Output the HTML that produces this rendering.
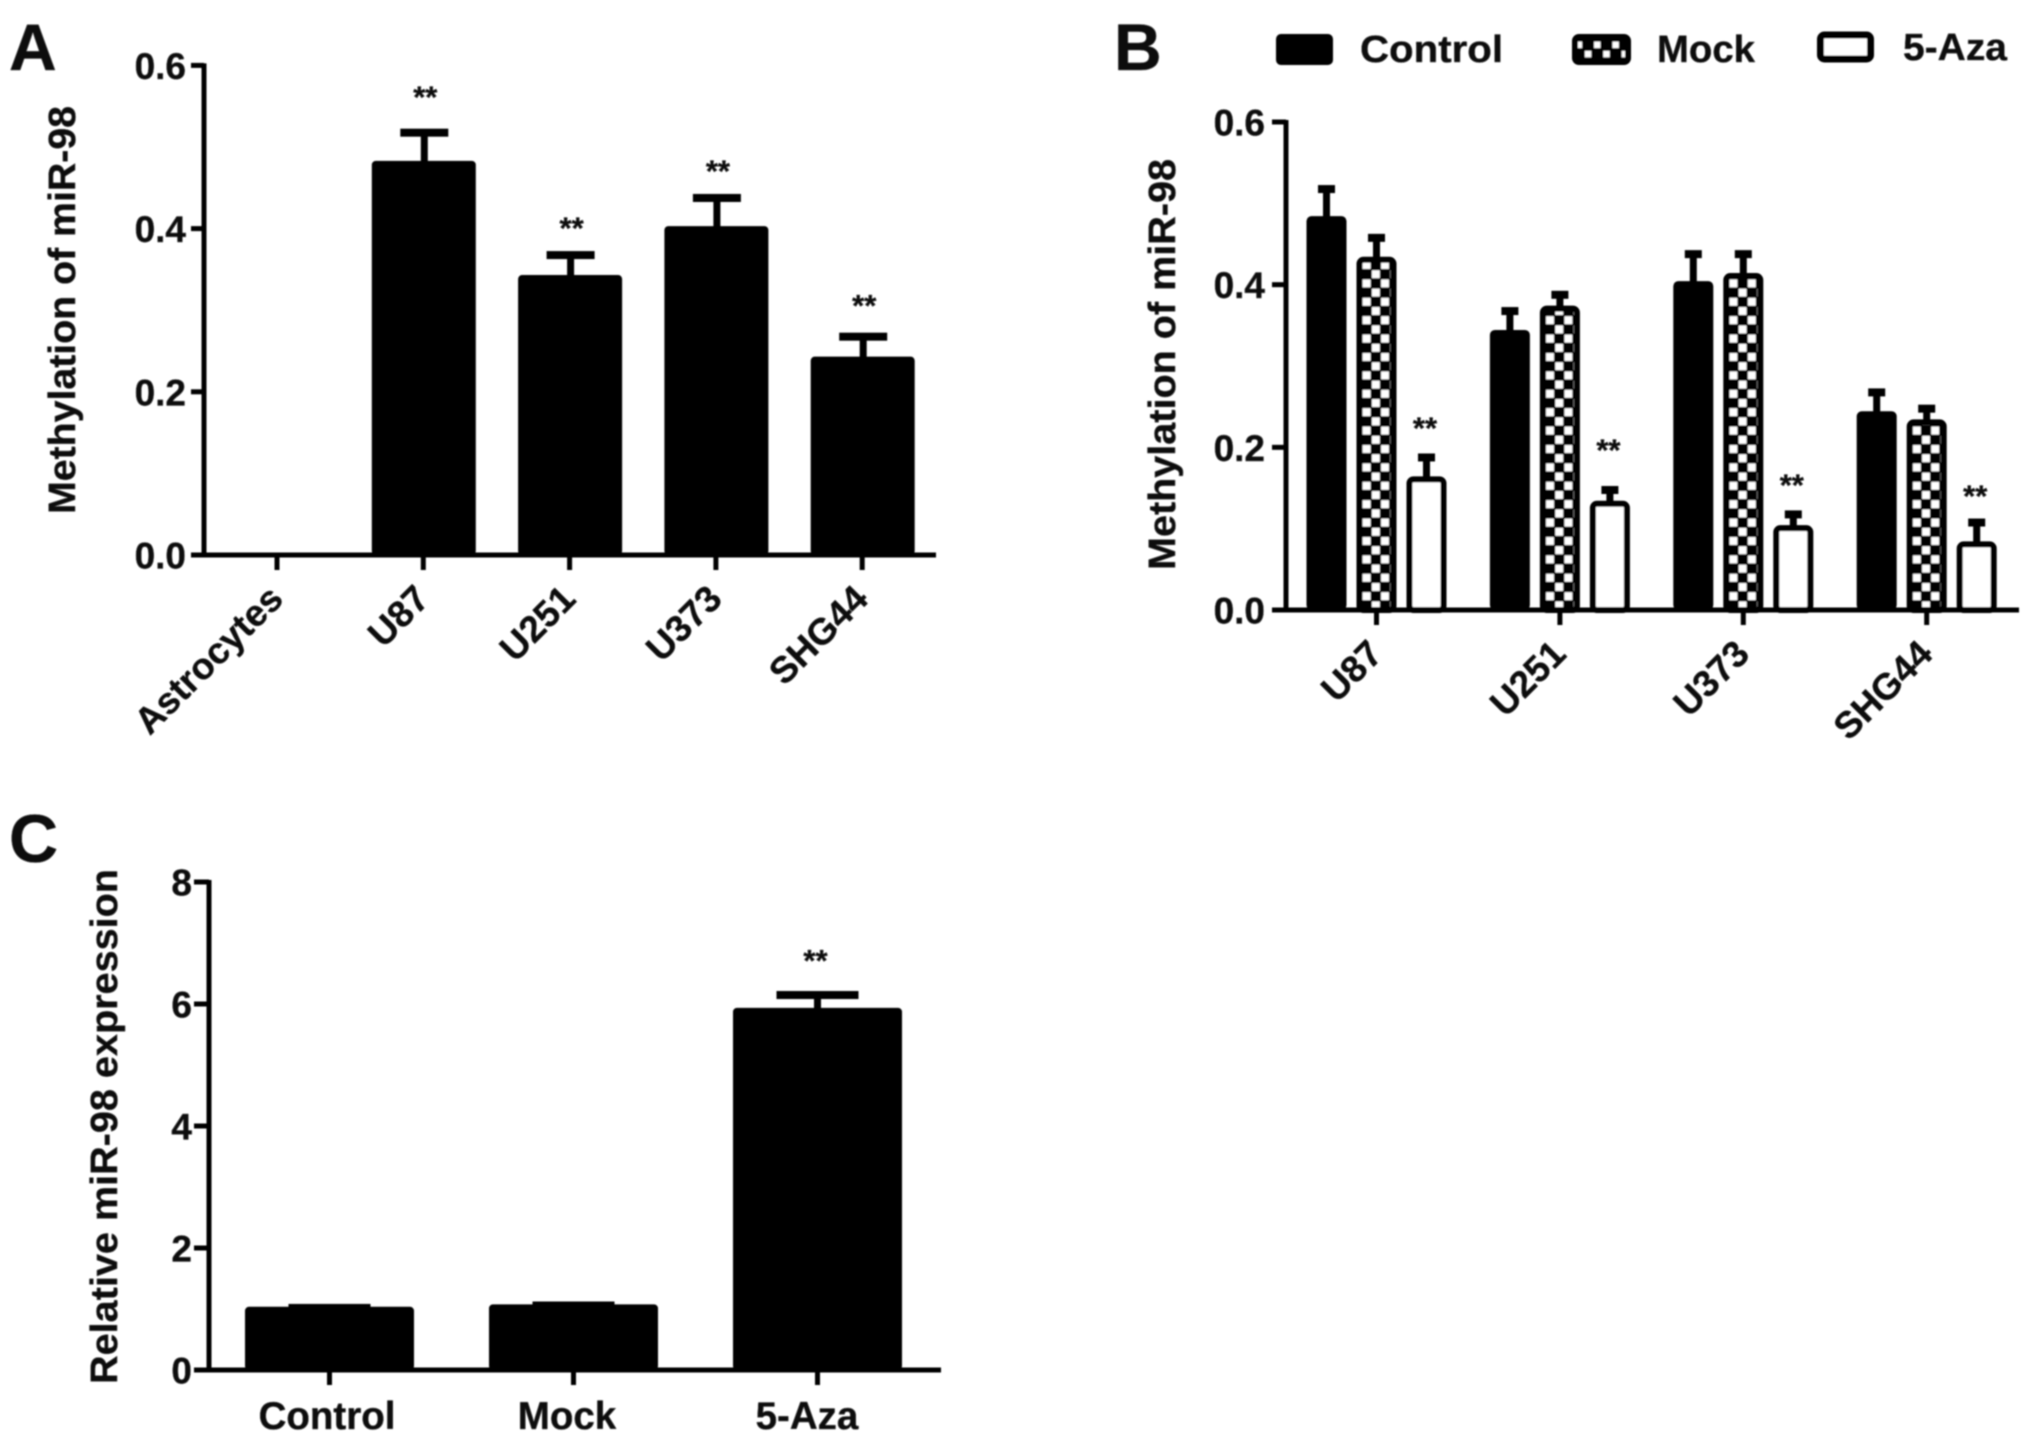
<!DOCTYPE html>
<html lang="en">
<head>
<meta charset="utf-8">
<title>miR-98 methylation and expression</title>
<style>
html,body{margin:0;padding:0;background:#fff;width:2031px;height:1442px;overflow:hidden}
svg{display:block}
text{font-family:"Liberation Sans",Arial,sans-serif;font-weight:bold;fill:#0a0a0a;stroke:#0a0a0a;stroke-width:.3px}
</style>
</head>
<body>
<svg id="figure" xmlns="http://www.w3.org/2000/svg" width="2031" height="1442" viewBox="0 0 2031 1442">
<defs>
<filter id="soft" x="-2%" y="-2%" width="104%" height="104%"><feGaussianBlur stdDeviation="0.9"/></filter>
<pattern id="legend-check" patternUnits="userSpaceOnUse" x="1574" y="40" width="18.4" height="18.4">
<rect width="18.4" height="18.4" fill="#000"/>
<rect x="1.6" y="1.6" width="6.5" height="6.5" fill="#fff"/>
<rect x="10.8" y="10.8" width="6.5" height="6.5" fill="#fff"/>
</pattern>
</defs>
<rect width="2031" height="1442" fill="#fff"/>
<g id="root" filter="url(#soft)">
<text x="9" y="70" font-size="66">A</text>
<text x="1114" y="70" font-size="66">B</text>
<text x="9" y="862" font-size="68">C</text>
<text transform="translate(75,514) rotate(-90)" font-size="38" textLength="408" lengthAdjust="spacingAndGlyphs">Methylation of miR-98</text>
<text transform="translate(1175,570) rotate(-90)" font-size="38" textLength="411" lengthAdjust="spacingAndGlyphs">Methylation of miR-98</text>
<text transform="translate(117,1384) rotate(-90)" font-size="38" textLength="515" lengthAdjust="spacingAndGlyphs">Relative miR-98 expression</text>
<g>
<rect x="1276" y="34" width="57" height="31" rx="5" fill="#000"/>
<text x="1360" y="62" font-size="38" textLength="143" lengthAdjust="spacingAndGlyphs">Control</text>
<rect x="1575" y="37" width="53" height="25" rx="4" fill="url(#legend-check)" stroke="#000" stroke-width="6"/>
<text x="1657" y="62" font-size="38" textLength="98" lengthAdjust="spacingAndGlyphs">Mock</text>
<rect x="1820.5" y="35" width="50" height="24" rx="4" fill="#fff" stroke="#000" stroke-width="7"/>
<text x="1903" y="60" font-size="38" textLength="104" lengthAdjust="spacingAndGlyphs">5-Aza</text>
</g>
</g>
</svg>
<script>
/* Panel A data */
const aCategories = ["Astrocytes", "U87", "U251", "U373", "SHG44"];
const aValues = [0, 0.48, 0.34, 0.40, 0.24];
const aErrors = [0, 0.04, 0.03, 0.04, 0.03];
const aStarLevels = [null, 0.567, 0.406, 0.476, 0.311];
const aTicks = ["0.0", "0.2", "0.4", "0.6"];

/* Panel B data */
const bCategories = ["U87", "U251", "U373", "SHG44"];
const bControlValues = [0.48, 0.34, 0.40, 0.24];
const bControlErrors = [0.04, 0.03, 0.04, 0.03];
const bMockValues = [0.43, 0.37, 0.41, 0.23];
const bMockErrors = [0.03, 0.02, 0.03, 0.02];
const bAzaValues = [0.16, 0.13, 0.10, 0.08];
const bAzaErrors = [0.03, 0.02, 0.02, 0.03];
const bStarLevels = [0.229, 0.202, 0.159, 0.146];
const bTicks = ["0.0", "0.2", "0.4", "0.6"];

/* Panel C data */
const cCategories = ["Control", "Mock", "5-Aza"];
const cValues = [1.02, 1.06, 5.92];
const cErrors = [0.03, 0.03, 0.26];
const cStarLevels = [null, null, 6.79];
const cTicks = ["0", "2", "4", "6", "8"];

const NS = "http://www.w3.org/2000/svg";
const root = document.getElementById("root");
const defs = document.querySelector("defs");

function mk(tag, attrs, parent) {
  const el = document.createElementNS(NS, tag);
  for (const k in attrs) el.setAttribute(k, attrs[k]);
  (parent || root).appendChild(el);
  return el;
}

function linearY(zeroPx, topPx, maxVal) {
  return v => zeroPx - (v / maxVal) * (zeroPx - topPx);
}
function bandX(firstPx, stepPx) {
  return i => firstPx + stepPx * i;
}

function drawAxes(g, name, o) {
  const yAxis = mk("line", {x1: o.axisX, x2: o.axisX, y1: o.y(o.maxVal) - 2, y2: o.y(0) + 2, stroke: "#000", "stroke-width": 5}, g);
  
  
  const xAxis = mk("line", {x1: o.axisLeft, x2: o.axisRight, y1: o.y(0), y2: o.y(0), stroke: "#000", "stroke-width": 5}, g);
  
  
  o.ticks.forEach(t => {
    const v = parseFloat(t);
    const tick = mk("line", {x1: o.axisLeft, x2: o.axisX, y1: o.y(v), y2: o.y(v), stroke: "#000", "stroke-width": 5}, g);
    
    
    const label = mk("text", {x: o.tickLabelRight, y: o.y(v) + 13.5, "font-size": 37, "text-anchor": "end"}, g);
    label.textContent = t;
    
    
  });
  o.categories.forEach((c, i) => {
    const x = o.x(i);
    const tick = mk("line", {x1: x, x2: x, y1: o.y(0), y2: o.y(0) + 15, stroke: "#000", "stroke-width": 5}, g);
    
    
    let label;
    if (o.rotated) {
      label = mk("text", {transform: "translate(" + (x + 8) + "," + (o.y(0) + 46) + ") rotate(-45)", "font-size": 37, "text-anchor": "end"}, g);
    } else {
      label = mk("text", {x: o.labelX(i), y: o.y(0) + 59, "font-size": 38.5, "text-anchor": "middle"}, g);
    }
    label.textContent = c;
    
    
  });
}

function drawError(g, name, cx, y, value, err, capW, thick) {
  if (err <= 0 || value <= 0) return;
  const stem = mk("rect", {x: cx - thick / 2, width: thick, y: y(value + err), height: y(value) - y(value + err), fill: "#000"}, g);
  
  
  const cap = mk("rect", {x: cx - capW / 2, width: capW, y: y(value + err) - 2, height: thick + 1, fill: "#000"}, g);
  
  
}

function drawStars(g, name, cx, y, level) {
  if (level === null) return;
  const s = mk("text", {x: cx, y: y(level) + 15, "font-size": 31, "text-anchor": "middle"}, g);
  s.textContent = "**";
  
  
}

/* ---- Panel A ---- */
const gA = mk("g", {});


const yA = linearY(555, 65.4, 0.6);
const xA = bandX(277, 146.3);
const liftA = 2.5;
aValues.forEach((v, i) => {
  if (v > 0) {
    const bar = mk("rect", {x: xA(i) - 51.5, width: 104, y: yA(v) - liftA, height: yA(0) - yA(v) + liftA, rx: 4, fill: "#000"}, gA);
    
    
  }
  drawError(gA, "panel-a-" + aCategories[i].toLowerCase(), xA(i) + 1, yA, v, aErrors[i], 48, 7);
  drawStars(gA, "panel-a-" + aCategories[i].toLowerCase(), xA(i) + 2, yA, aStarLevels[i]);
});
drawAxes(gA, "panel-a", {axisX: 204, axisLeft: 191, axisRight: 936, y: yA, x: xA, maxVal: 0.6, ticks: aTicks, categories: aCategories, tickLabelRight: 186, rotated: true});

/* ---- Panel B ---- */
const gB = mk("g", {});


const yB = linearY(610, 122, 0.6);
const xB = bandX(1376.5, 183.4);
const barW = 40;
const liftB = 3.5;
bCategories.forEach((c, i) => {
  const key = c.toLowerCase();
  const cx = xB(i);
  const ctrl = mk("rect", {x: cx - 50 - barW / 2, width: barW, y: yB(bControlValues[i]) - liftB, height: yB(0) - yB(bControlValues[i]) + liftB, rx: 5, fill: "#000"}, gB);
  
  
  drawError(gB, "panel-b-control-" + key, cx - 50, yB, bControlValues[i], bControlErrors[i], 17, 7);

  const pid = "check-" + i;
  const pat = mk("pattern", {id: pid, patternUnits: "userSpaceOnUse", x: cx - 14.5, y: 610, width: 18.4, height: 18.4}, defs);
  mk("rect", {width: 18.4, height: 18.4, fill: "#000"}, pat);
  mk("rect", {x: 0.6, y: 0.6, width: 8, height: 8, fill: "#fff"}, pat);
  mk("rect", {x: 9.8, y: 9.8, width: 8, height: 8, fill: "#fff"}, pat);
  const mock = mk("rect", {x: cx - barW / 2 + 3, width: barW - 6, y: yB(bMockValues[i]) + 3 - liftB, height: yB(0) - yB(bMockValues[i]) - 3 + liftB, rx: 4, fill: "url(#" + pid + ")", stroke: "#000", "stroke-width": 6}, gB);
  
  
  drawError(gB, "panel-b-mock-" + key, cx, yB, bMockValues[i], bMockErrors[i], 17, 7);

  const aza = mk("rect", {x: cx + 50 - barW / 2 + 3, width: barW - 6, y: yB(bAzaValues[i]) + 3 - liftB, height: yB(0) - yB(bAzaValues[i]) - 3 + liftB, rx: 4, fill: "#fff", stroke: "#000", "stroke-width": 6}, gB);
  
  
  drawError(gB, "panel-b-5-aza-" + key, cx + 50, yB, bAzaValues[i], bAzaErrors[i], 17, 7);
  drawStars(gB, "panel-b-5-aza-" + key, cx + 48.5, yB, bStarLevels[i]);
});
drawAxes(gB, "panel-b", {axisX: 1286, axisLeft: 1272, axisRight: 2019, y: yB, x: xB, maxVal: 0.6, ticks: bTicks, categories: bCategories, tickLabelRight: 1265, rotated: true});

/* ---- Panel C ---- */
const gC = mk("g", {});


const yC = linearY(1370, 882, 8);
const xC = bandX(329.5, 244);
const xCLabel = bandX(327, 240);
cValues.forEach((v, i) => {
  const key = cCategories[i].toLowerCase();
  const bar = mk("rect", {x: xC(i) - 84.5, width: 169, y: yC(v) - 1, height: yC(0) - yC(v) + 1, rx: 4, fill: "#000"}, gC);
  
  
  drawError(gC, "panel-c-" + key, xC(i), yC, v, cErrors[i], 82, 7);
  drawStars(gC, "panel-c-" + key, xC(i) - 2, yC, cStarLevels[i]);
});
drawAxes(gC, "panel-c", {axisX: 209, axisLeft: 194, axisRight: 941, y: yC, x: xC, labelX: xCLabel, maxVal: 8, ticks: cTicks, categories: cCategories, tickLabelRight: 192, rotated: false});
</script>
</body>
</html>
